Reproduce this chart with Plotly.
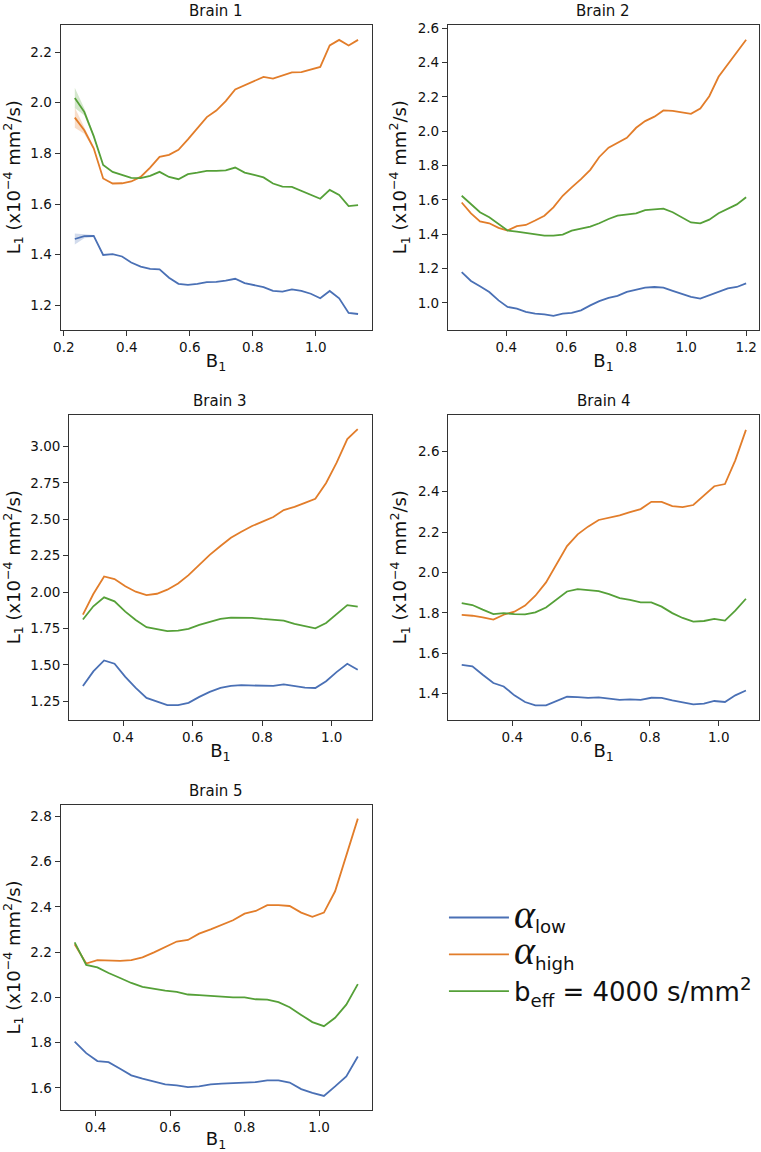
import plotly.graph_objects as go

W, H = 761, 1152

# ---------------- data ----------------
B1_P1 = [0.235, 0.265, 0.295, 0.325, 0.355, 0.385, 0.414, 0.444, 0.474, 0.504, 0.534,
         0.564, 0.594, 0.624, 0.654, 0.684, 0.714, 0.744, 0.774, 0.804, 0.834, 0.864,
         0.894, 0.924, 0.954, 0.984, 1.014, 1.044, 1.074, 1.104, 1.134]
LOW_P1 = [1.462, 1.473, 1.474, 1.399, 1.402, 1.393, 1.369, 1.353, 1.344, 1.342, 1.309,
          1.285, 1.281, 1.285, 1.292, 1.293, 1.298, 1.305, 1.288, 1.279, 1.272, 1.257,
          1.254, 1.263, 1.257, 1.246, 1.228, 1.257, 1.228, 1.170, 1.166]
HIGH_P1 = [1.941, 1.891, 1.820, 1.701, 1.681, 1.682, 1.689, 1.707, 1.744, 1.786, 1.794,
           1.814, 1.855, 1.900, 1.943, 1.969, 2.006, 2.052, 2.068, 2.087, 2.102, 2.095,
           2.108, 2.120, 2.121, 2.130, 2.141, 2.226, 2.248, 2.226, 2.248]
BEFF_P1 = [2.019, 1.964, 1.868, 1.754, 1.727, 1.714, 1.703, 1.702, 1.711, 1.727, 1.707,
           1.698, 1.718, 1.724, 1.731, 1.731, 1.733, 1.744, 1.724, 1.715, 1.705, 1.681,
           1.669, 1.668, 1.652, 1.636, 1.621, 1.656, 1.636, 1.592, 1.596]
# spread (half-width of shaded band) on the first points of Brain 1
BAND_LOW_P1 = [0.022, 0.008, 0.004, 0.003]
BAND_HIGH_P1 = [0.040, 0.014, 0.006, 0.003]
BAND_BEFF_P1 = [0.040, 0.014, 0.006, 0.003]

B1_P2 = [0.251, 0.282, 0.312, 0.343, 0.374, 0.404, 0.435, 0.465, 0.496, 0.527, 0.557,
         0.588, 0.618, 0.649, 0.680, 0.710, 0.741, 0.771, 0.802, 0.833, 0.863, 0.894,
         0.924, 0.955, 0.986, 1.016, 1.047, 1.077, 1.108, 1.139, 1.169, 1.200]
LOW_P2 = [1.180, 1.128, 1.097, 1.064, 1.015, 0.977, 0.967, 0.948, 0.938, 0.934, 0.925,
          0.938, 0.942, 0.957, 0.986, 1.011, 1.029, 1.041, 1.064, 1.077, 1.089, 1.093,
          1.089, 1.070, 1.050, 1.035, 1.025, 1.044, 1.064, 1.085, 1.093, 1.114]
HIGH_P2 = [1.585, 1.522, 1.475, 1.464, 1.437, 1.422, 1.447, 1.454, 1.480, 1.508, 1.557,
           1.624, 1.673, 1.721, 1.775, 1.850, 1.904, 1.933, 1.962, 2.020, 2.059, 2.085,
           2.121, 2.119, 2.110, 2.101, 2.132, 2.204, 2.317, 2.389, 2.458, 2.533]
BEFF_P2 = [1.624, 1.576, 1.528, 1.499, 1.460, 1.422, 1.415, 1.408, 1.398, 1.392, 1.392,
           1.398, 1.421, 1.431, 1.444, 1.464, 1.489, 1.508, 1.514, 1.522, 1.541, 1.547,
           1.549, 1.528, 1.499, 1.469, 1.463, 1.485, 1.522, 1.550, 1.574, 1.616]

B1_P3 = [0.284, 0.314, 0.345, 0.375, 0.406, 0.436, 0.467, 0.497, 0.527, 0.558, 0.588,
         0.619, 0.649, 0.680, 0.710, 0.740, 0.771, 0.801, 0.832, 0.862, 0.893, 0.923,
         0.953, 0.984, 1.014, 1.045, 1.075]
LOW_P3 = [1.355, 1.455, 1.530, 1.508, 1.417, 1.341, 1.273, 1.246, 1.223, 1.223, 1.239,
          1.280, 1.314, 1.341, 1.355, 1.360, 1.360, 1.355, 1.355, 1.366, 1.353, 1.343,
          1.341, 1.387, 1.450, 1.507, 1.466]
HIGH_P3 = [1.845, 1.986, 2.107, 2.089, 2.039, 2.002, 1.979, 1.988, 2.016, 2.059, 2.116,
           2.185, 2.255, 2.316, 2.373, 2.414, 2.453, 2.483, 2.515, 2.563, 2.585, 2.612,
           2.640, 2.749, 2.886, 3.050, 3.118]
BEFF_P3 = [1.811, 1.902, 1.963, 1.936, 1.865, 1.808, 1.758, 1.742, 1.731, 1.735, 1.747,
           1.774, 1.792, 1.815, 1.824, 1.824, 1.822, 1.815, 1.808, 1.804, 1.781, 1.765,
           1.751, 1.787, 1.849, 1.910, 1.900]

B1_P4 = [0.253, 0.284, 0.314, 0.345, 0.375, 0.406, 0.437, 0.467, 0.498, 0.528, 0.559,
         0.590, 0.620, 0.651, 0.681, 0.712, 0.742, 0.773, 0.804, 0.834, 0.865, 0.895,
         0.926, 0.957, 0.987, 1.018, 1.048, 1.079]
LOW_P4 = [1.543, 1.536, 1.494, 1.453, 1.436, 1.392, 1.359, 1.342, 1.342, 1.362, 1.385,
          1.383, 1.379, 1.382, 1.375, 1.370, 1.372, 1.370, 1.380, 1.379, 1.367, 1.356,
          1.347, 1.351, 1.364, 1.359, 1.392, 1.416]
HIGH_P4 = [1.790, 1.786, 1.778, 1.767, 1.791, 1.806, 1.836, 1.885, 1.951, 2.041, 2.131,
           2.189, 2.227, 2.260, 2.271, 2.283, 2.299, 2.314, 2.350, 2.350, 2.329, 2.324,
           2.334, 2.380, 2.427, 2.438, 2.555, 2.706]
BEFF_P4 = [1.849, 1.839, 1.816, 1.794, 1.799, 1.794, 1.793, 1.803, 1.827, 1.868, 1.906,
           1.918, 1.913, 1.908, 1.893, 1.873, 1.865, 1.852, 1.852, 1.831, 1.799, 1.775,
           1.757, 1.760, 1.770, 1.762, 1.811, 1.870]

B1_P5 = [0.344, 0.375, 0.405, 0.435, 0.466, 0.496, 0.526, 0.557, 0.587, 0.618, 0.648,
         0.678, 0.709, 0.739, 0.769, 0.800, 0.830, 0.861, 0.891, 0.921, 0.952, 0.982,
         1.013, 1.043, 1.073, 1.104]
LOW_P5 = [1.805, 1.754, 1.719, 1.714, 1.685, 1.656, 1.641, 1.629, 1.616, 1.612, 1.604,
          1.607, 1.616, 1.619, 1.622, 1.626, 1.626, 1.634, 1.634, 1.624, 1.595, 1.578,
          1.565, 1.607, 1.651, 1.739]
HIGH_P5 = [2.235, 2.150, 2.165, 2.162, 2.162, 2.165, 2.177, 2.199, 2.224, 2.247, 2.254,
           2.282, 2.301, 2.320, 2.341, 2.370, 2.382, 2.408, 2.408, 2.404, 2.375, 2.356,
           2.375, 2.469, 2.631, 2.790]
BEFF_P5 = [2.243, 2.144, 2.133, 2.108, 2.086, 2.064, 2.047, 2.037, 2.030, 2.025, 2.013,
           2.010, 2.008, 2.004, 2.000, 2.000, 1.992, 1.990, 1.979, 1.957, 1.923, 1.891,
           1.873, 1.910, 1.968, 2.059]

TITLES = ["Brain 1", "Brain 2", "Brain 3", "Brain 4", "Brain 5"]
SERIES_NAMES = ["<span style=\"font-family:'Liberation Serif';font-size:40px\"><i>α</i></span><sub>low</sub>",
                "<span style=\"font-family:'Liberation Serif';font-size:40px\"><i>α</i></span><sub>high</sub>",
                "b<sub>eff</sub> = 4000 s/mm<sup>2</sup>"]

# ---------------- layout / style ----------------
COLORS = ["#4A70B5", "#E27D2A", "#55A038"]
FILLS = ["rgba(74,112,181,0.25)", "rgba(226,125,42,0.25)", "rgba(85,160,56,0.25)"]
FONT = "DejaVu Sans"

# axes boxes in pixels: (left, right, top, bottom)
BOXES = [(54, 368, 20, 326), (445, 759, 20, 326),
         (62.7, 368, 411.7, 717.7), (445.3, 759, 411.7, 717.7),
         (54, 368, 803.3, 1110)]
XRANGES = [(0.1896, 1.177), (0.205, 1.243), (0.2443, 1.115), (0.2137, 1.117), (0.306, 1.141)]
YRANGES = [(1.1045, 2.307), (0.845, 2.619), (1.124, 3.216), (1.272, 2.780), (1.502, 2.851)]
YDTICK = [0.2, 0.2, 0.25, 0.2, 0.2]
YFMT = [".1f", ".1f", ".2f", ".1f", ".1f"]

panels = [
    (B1_P1, [LOW_P1, HIGH_P1, BEFF_P1]),
    (B1_P2, [LOW_P2, HIGH_P2, BEFF_P2]),
    (B1_P3, [LOW_P3, HIGH_P3, BEFF_P3]),
    (B1_P4, [LOW_P4, HIGH_P4, BEFF_P4]),
    (B1_P5, [LOW_P5, HIGH_P5, BEFF_P5]),
]

fig = go.Figure()

# shaded spread bands in Brain 1
bands = [BAND_LOW_P1, BAND_HIGH_P1, BAND_BEFF_P1]
for s, (ys, band) in enumerate(zip([LOW_P1, HIGH_P1, BEFF_P1], bands)):
    n = len(band)
    xs = B1_P1[:n]
    upper = [y + b for y, b in zip(ys[:n], band)]
    lower = [y - b for y, b in zip(ys[:n], band)]
    fig.add_trace(go.Scatter(x=xs + xs[::-1], y=upper + lower[::-1], fill="toself",
                             fillcolor=FILLS[s], line=dict(width=0), mode="lines",
                             showlegend=False, hoverinfo="skip", xaxis="x", yaxis="y"))

for k, (xs, series) in enumerate(panels):
    suf = "" if k == 0 else str(k + 1)
    for s, ys in enumerate(series):
        fig.add_trace(go.Scatter(x=xs, y=ys, mode="lines", name=SERIES_NAMES[s],
                                 line=dict(color=COLORS[s], width=1.8),
                                 showlegend=(k == 0), xaxis="x" + suf, yaxis="y" + suf))

axis_common = dict(showline=True, linecolor="#333333", linewidth=1, mirror=True,
                   ticks="outside", ticklen=5, tickwidth=1, tickcolor="#333333",
                   showgrid=False, zeroline=False,
                   tickfont=dict(family=FONT, size=13.5, color="#111111"))

annotations = []
for k, (l, r, t, b) in enumerate(BOXES):
    suf = "" if k == 0 else str(k + 1)
    xd = [l / W, r / W]
    yd = [1 - b / H, 1 - t / H]
    fig.layout["xaxis" + suf] = dict(axis_common, domain=xd, range=list(XRANGES[k]),
                                     anchor="y" + suf, dtick=0.2, tick0=0, tickformat=".1f",
                                     title=dict(text="B<sub>1</sub>", standoff=0,
                                                font=dict(family=FONT, size=18, color="#111111")))
    fig.layout["yaxis" + suf] = dict(axis_common, domain=yd, range=list(YRANGES[k]),
                                     anchor="x" + suf, dtick=YDTICK[k], tick0=0, tickformat=YFMT[k],
                                     title=dict(text="L<sub>1</sub> (x10<sup>−4</sup> mm<sup>2</sup>/s)",
                                                standoff=6,
                                                font=dict(family=FONT, size=18, color="#111111")))
    annotations.append(dict(text=TITLES[k], x=(xd[0] + xd[1]) / 2, y=yd[1], xref="paper", yref="paper",
                            xanchor="center", yanchor="bottom", yshift=3, showarrow=False,
                            font=dict(family=FONT, size=15, color="#111111")))

fig.update_layout(
    width=W, height=H, autosize=False,
    margin=dict(l=0, r=0, t=0, b=0),
    paper_bgcolor="white", plot_bgcolor="white",
    font=dict(family=FONT, color="#111111"),
    annotations=annotations,
    showlegend=True,
    legend=dict(x=441 / W, y=1 - 893 / H, xanchor="left", yanchor="top",
                bgcolor="rgba(0,0,0,0)", borderwidth=0, itemwidth=60,
                font=dict(family=FONT, size=26, color="#111111"), tracegroupgap=0),
)

fig.write_html("out.html", config={"displayModeBar": False},
               post_script="document.body.style.margin='0';document.body.style.overflow='hidden';")
